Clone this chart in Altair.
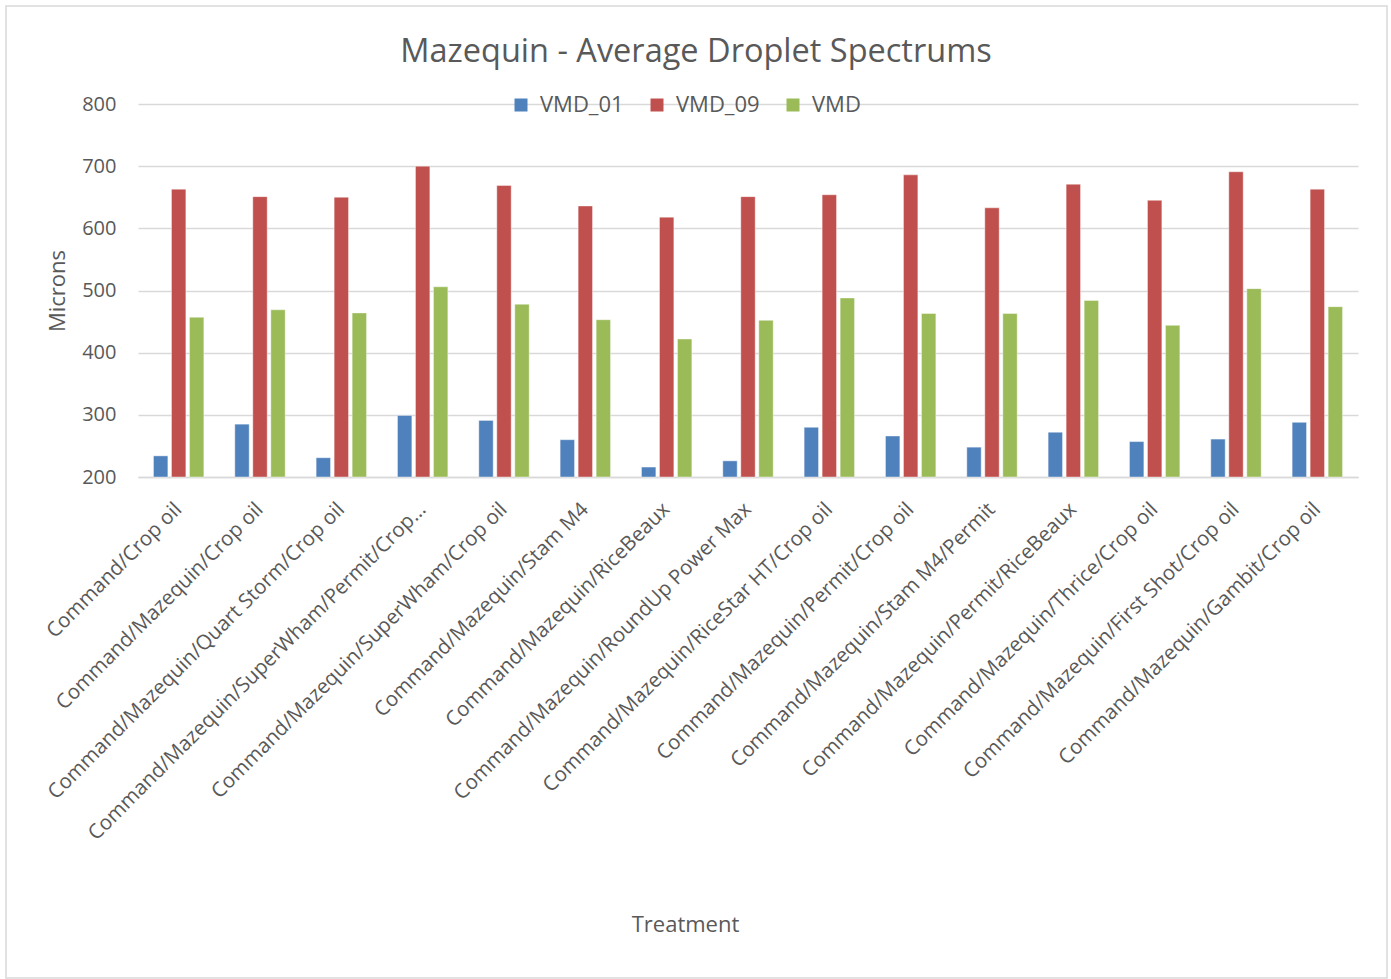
import altair as alt
import pandas as pd

# Treatments in plotting order
treatments = [
    "Command/Crop oil",
    "Command/Mazequin/Crop oil",
    "Command/Mazequin/Quart Storm/Crop oil",
    "Command/Mazequin/SuperWham/Permit/Crop…",
    "Command/Mazequin/SuperWham/Crop oil",
    "Command/Mazequin/Stam M4",
    "Command/Mazequin/RiceBeaux",
    "Command/Mazequin/RoundUp Power Max",
    "Command/Mazequin/RiceStar HT/Crop oil",
    "Command/Mazequin/Permit/Crop oil",
    "Command/Mazequin/Stam M4/Permit",
    "Command/Mazequin/Permit/RiceBeaux",
    "Command/Mazequin/Thrice/Crop oil",
    "Command/Mazequin/First Shot/Crop oil",
    "Command/Mazequin/Gambit/Crop oil",
]

# Droplet size statistics (microns)
vmd_01 = [234, 285, 231, 299, 291, 260, 216, 226, 280, 266, 248, 272, 257, 261, 288]
vmd_09 = [663, 651, 650, 700, 669, 636, 618, 651, 654, 686, 633, 671, 645, 691, 663]
vmd = [457, 469, 464, 506, 478, 453, 422, 452, 488, 463, 463, 484, 444, 503, 474]

series_names = ["VMD_01", "VMD_09", "VMD"]
series_colors = ["#4F81BD", "#C0504D", "#9BBB59"]

rows = []
for name, values in zip(series_names, [vmd_01, vmd_09, vmd]):
    for t, v in zip(treatments, values):
        rows.append({"Treatment": t, "Series": name, "Microns": v})
df = pd.DataFrame(rows)

FONT = "Open Sans"
TEXT = "#595959"
GRID = "#D9D9D9"

bars = alt.Chart(df).mark_bar(stroke="white", strokeWidth=0.6, strokeOpacity=0.7).encode(
    x=alt.X(
        "Treatment:N",
        sort=treatments,
        scale=alt.Scale(paddingInner=0.336, paddingOuter=0.168),
        axis=alt.Axis(
            title="Treatment",
            labelAngle=-45,
            labelAlign="right",
            labelBaseline="middle",
            labelPadding=29,
            labelLimit=800,
            labelOverlap=False,
            labelFontSize=20.5,
            labelColor=TEXT,
            ticks=False,
            domain=True,
            domainColor=GRID,
            domainWidth=1.5,
            titleFontSize=22,
            titleFontWeight="normal",
            titleColor=TEXT,
            titleX=547,
            titleY=447,
            titleAlign="center",
            titleBaseline="middle",
        ),
    ),
    xOffset=alt.XOffset(
        "Series:N",
        sort=series_names,
        scale=alt.Scale(paddingInner=0.2, paddingOuter=0.1),
    ),
    y=alt.Y(
        "Microns:Q",
        scale=alt.Scale(domain=[200, 800], nice=False, zero=False),
        axis=alt.Axis(
            title="Microns",
            values=[200, 300, 400, 500, 600, 700, 800],
            labelFontSize=20,
            labelColor=TEXT,
            labelPadding=22,
            ticks=False,
            domain=False,
            grid=True,
            gridColor=GRID,
            gridWidth=1.5,
            titleFontSize=22,
            titleFontWeight="normal",
            titleColor=TEXT,
            titlePadding=12,
        ),
    ),
    y2=alt.datum(200),
    color=alt.Color(
        "Series:N",
        sort=series_names,
        scale=alt.Scale(domain=series_names, range=series_colors),
        legend=alt.Legend(
            title=None,
            orient="none",
            direction="horizontal",
            legendX=372,
            legendY=-10,
            symbolType="square",
            symbolSize=169,
            symbolStrokeWidth=0,
            labelFontSize=22,
            labelColor=TEXT,
            labelOffset=8,
            columnPadding=22,
        ),
    ),
)

# Light frame around the whole chart
frame = alt.Chart(pd.DataFrame({"k": [0]})).mark_rect(
    fill=None, stroke=GRID, strokeWidth=1.5
).encode(
    x=alt.value(-132),
    x2=alt.value(1249),
    y=alt.value(-98),
    y2=alt.value(874),
)

chart = alt.layer(frame, bars).properties(
    width=1220,
    height=373,
    autosize=alt.AutoSizeParams(type="none"),
    padding={"left": 138, "top": 104, "right": 33, "bottom": 502},
    title=alt.Title(
        "Mazequin - Average Droplet Spectrums",
        fontSize=32.5,
        fontWeight="normal",
        color=TEXT,
        font=FONT,
        anchor="middle",
        dx=-52,
        offset=-63,
    ),
).configure(
    font=FONT,
).configure_view(
    strokeWidth=0,
)

chart.save("out.html", embed_options={"renderer": "svg", "actions": False})
